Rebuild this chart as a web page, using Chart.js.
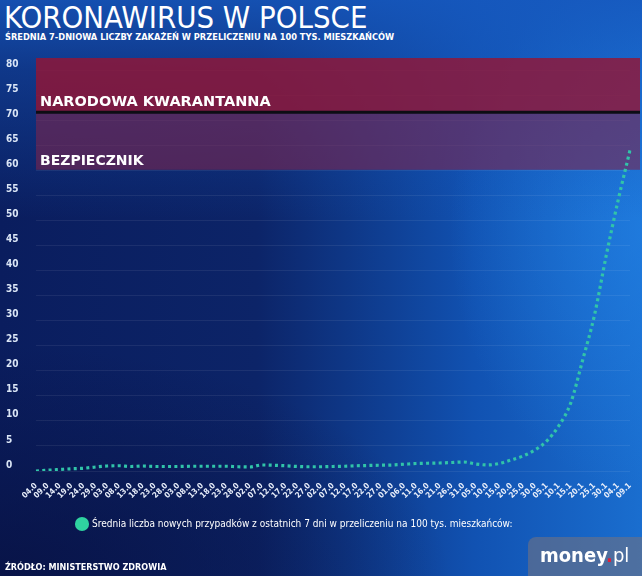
<!DOCTYPE html>
<html><head><meta charset="utf-8">
<script src="https://cdn.jsdelivr.net/npm/chart.js@4.4.1/dist/chart.umd.min.js"></script>
<style>
html,body{margin:0;padding:0;width:642px;height:576px;overflow:hidden}
body{position:relative;
background:
 linear-gradient(180deg, rgba(22,88,190,0.85) 0%, rgba(22,88,190,0.45) 12%, rgba(22,88,190,0) 38%),
 radial-gradient(ellipse 70% 40% at 0% 100%, rgba(8,18,68,0.85), rgba(8,18,68,0) 100%),
 radial-gradient(ellipse 30% 45% at 100% 40%, rgba(34,130,230,0.6), rgba(34,130,230,0) 100%),
 linear-gradient(90deg, #0a1d5e 0%, #0c2468 40%, #1152b2 74%, #1a6ecf 100%);}
#c{position:absolute;left:0;top:0}
#title{position:absolute;left:4px;top:-1px;font:30.8px "DejaVu Sans Condensed";color:#fff;white-space:nowrap}
#sub{position:absolute;left:5px;top:31px;font:bold 9.2px "DejaVu Sans Condensed";color:#fff;white-space:nowrap}
#src{position:absolute;left:5px;top:562px;font:bold 9px "DejaVu Sans Condensed";color:#fff;white-space:nowrap}
#logo{position:absolute;left:528px;top:537px;width:114px;height:39px;background:rgba(112,114,130,0.6);border-top-left-radius:8px}
#logo span.m{position:absolute;left:12px;top:6px;font:bold 20px "DejaVu Sans Condensed";color:#fff}
#logo span.d{color:#e0203a}
#logo span.p{font-weight:normal}
</style></head><body>
<div id="title">KORONAWIRUS W POLSCE</div>
<div id="sub">ŚREDNIA 7-DNIOWA LICZBY ZAKAŻEŃ W PRZELICZENIU NA 100 TYS. MIESZKAŃCÓW</div>
<canvas id="c" width="642" height="576"></canvas>
<div id="src">ŹRÓDŁO: MINISTERSTWO ZDROWIA</div>
<div id="logo"><span class="m">money<span class="d">.</span><span class="p">pl</span></span></div>
<script>
const dates = ["04.03","09.03","14.03","19.03","24.03","29.03","03.04","08.04","13.04","18.04","23.04","28.04","03.05","08.05","13.05","18.05","23.05","28.05","02.06","07.06","12.06","17.06","22.06","27.06","02.07","07.07","12.07","17.07","22.07","27.07","01.08","06.08","11.08","16.08","21.08","26.08","31.08","05.09","10.09","15.09","20.09","25.09","30.09","05.10","10.10","15.10","20.10","25.10","30.10","04.11","09.11"];
const values = [0,0.15,0.3,0.45,0.55,0.8,1.0,1.05,0.9,1.0,0.9,0.9,0.9,0.95,0.95,0.95,0.95,0.85,0.8,1.2,1.15,1.05,0.9,0.85,0.85,0.9,0.95,1.05,1.1,1.15,1.2,1.35,1.5,1.55,1.6,1.7,1.8,1.4,1.2,1.5,2.2,3.0,4.2,6.0,9.0,13.5,22,31,43,54,64];
const seriesName = "Średnia liczba nowych przypadków z ostatnich 7 dni w przeliczeniu na 100 tys. mieszkańców:";
const yTicks = [0,5,10,15,20,25,30,35,40,45,50,55,60,65,70,75,80];
const yMax = 82.4;
const bandLabels = ["NARODOWA KWARANTANNA","BEZPIECZNIK"];
const bandEdges = [82.4, 71.6, 60.1];

const bandPlugin = {
  id:'bands',
  beforeDatasetsDraw(chart){
    const {ctx, chartArea:a, scales:{y}} = chart;
    const right = chart.width - 2;
    const y0 = y.getPixelForValue(bandEdges[0]);
    const y1 = y.getPixelForValue(bandEdges[1]);
    const y2 = y.getPixelForValue(bandEdges[2]);
    ctx.save();
    ctx.fillStyle = 'rgba(150,20,50,0.8)';
    ctx.fillRect(a.left, y0, right - a.left, y1 - y0);
    ctx.fillStyle = 'rgba(123,37,77,0.6)';
    ctx.fillRect(a.left, y1, right - a.left, y2 - y1);
    ctx.strokeStyle = '#0d0d14';
    ctx.lineWidth = 3;
    ctx.beginPath(); ctx.moveTo(a.left, y1); ctx.lineTo(right, y1); ctx.stroke();
    ctx.fillStyle = '#fff';
    ctx.font = 'bold 14.5px "DejaVu Sans"';
    ctx.textBaseline = 'alphabetic';
    ctx.fillText(bandLabels[0], a.left + 4, y1 - 6);
    ctx.font = 'bold 14px "DejaVu Sans"';
    ctx.fillText(bandLabels[1], a.left + 4, y2 - 5);
    ctx.restore();
  }
};
const legendShift = {
  id:'legendShift',
  afterLayout(chart){ chart.legend.left = 67; chart.legend.top += 2; chart.legend.bottom += 2; }
};

new Chart(document.getElementById('c'), {
  type:'line',
  data:{labels:dates, datasets:[{
    label:seriesName, data:values,
    borderColor:'#31c4a9', backgroundColor:'#2fd3a0',
    borderWidth:3.2, borderDash:[3,3.3], borderCapStyle:'butt',
    pointRadius:0, cubicInterpolationMode:'monotone', fill:false
  }]},
  options:{
    responsive:false, animation:false,
    layout:{padding:{top:58,left:6,right:12,bottom:39}},
    plugins:{
      legend:{position:'bottom', align:'start',
        labels:{usePointStyle:true, pointStyle:'circle', boxWidth:10, boxHeight:10, padding:10,
          color:'#fff', font:{family:'"DejaVu Sans Condensed"', size:10},
          generateLabels(chart){ return [{text:seriesName, fillStyle:'#2fd3a0', strokeStyle:'#2fd3a0', lineWidth:0, lineDash:[], pointStyle:'circle', datasetIndex:0, fontColor:'#fff'}]; }
        }},
      tooltip:{enabled:false}
    },
    scales:{
      x:{grid:{display:false}, border:{display:false},
        afterFit(s){ s.height = 36; },
        ticks:{autoSkip:false, maxRotation:45, minRotation:45, padding:2, color:'#e8eefa',
          font:{family:'"DejaVu Sans Condensed"', size:8, weight:'bold'},
          callback(v,i){ return dates[i].slice(0,4); }}},
      y:{min:0, max:yMax, border:{display:false},
        grid:{color:'rgba(255,255,255,0.07)', lineWidth:1, drawTicks:false},
        afterFit(s){ s.width = 30; },
        afterBuildTicks(s){ s.ticks = yTicks.map(v=>({value:v})); },
        ticks:{crossAlign:'far', labelOffset:-6, color:'#dbe6f6',
          font:{family:'"DejaVu Sans Condensed"', size:10, weight:'bold'}}}
    }
  },
  plugins:[bandPlugin, legendShift]
});
</script>
</body></html>
